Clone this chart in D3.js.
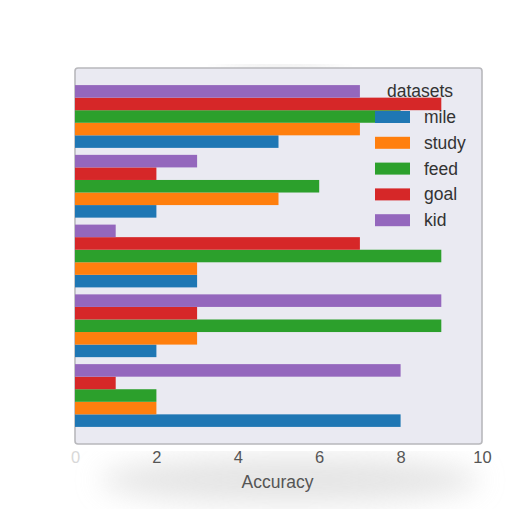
<!DOCTYPE html>
<html><head><meta charset="utf-8">
<script src="https://cdn.jsdelivr.net/npm/d3@7"></script>
<style>body{margin:0;background:#fff}svg{display:block}</style>
</head><body>
<svg id="c" width="512" height="512"></svg>
<script>
const groups = ["g1","g2","g3","g4","g5"]; // bottom to top
const seriesNames = ["mile","study","feed","goal","kid"];
const mile  = [8,2,3,2,5];
const study = [2,3,3,5,7];
const feed  = [2,9,9,6,8];
const goal  = [1,3,7,2,9];
const kid   = [8,9,1,3,7];
const xTicks = [0,2,4,6,8,10];
const colors = ["#1f77b4","#ff7f0e","#2ca02c","#d62728","#9467bd"];
const seriesValues = [mile, study, feed, goal, kid];

const svg = d3.select("#c");
const L = 75, R = 482, T = 68, B = 444;
const FONT = "Liberation Sans, Arial, sans-serif";

// soft shading artifacts
const defs = svg.append("defs");
defs.append("filter").attr("id","blur").append("feGaussianBlur").attr("stdDeviation",14);
svg.append("ellipse").attr("cx",290).attr("cy",480).attr("rx",190).attr("ry",24)
  .attr("fill","#dadada").attr("filter","url(#blur)").attr("opacity",0.7);
svg.append("ellipse").attr("cx",280).attr("cy",70).attr("rx",60).attr("ry",5)
  .attr("fill","#c8c8c8").attr("filter","url(#blur)").attr("opacity",0.8);

const x = d3.scaleLinear().domain([0,10]).range([L,R]);
const y = d3.scaleLinear().domain([-0.695,4.695]).range([B,T]);
const barH = 0.18;

svg.append("rect").attr("x",L).attr("y",T).attr("width",R-L).attr("height",B-T)
  .attr("rx",3).attr("fill","#eaeaf2").attr("stroke","#b8b8bc").attr("stroke-width",1.6);

seriesValues.forEach((vals, si) => {
  svg.append("g").selectAll("rect").data(vals).join("rect")
    .attr("x", x(0))
    .attr("width", d => x(d) - x(0))
    .attr("y", (d,i) => y(i - 0.45 + barH*(si+1)))
    .attr("height", y(0) - y(barH))
    .attr("fill", colors[si]);
});

// x axis
const ax = svg.append("g").attr("transform",`translate(0,${B})`)
  .call(d3.axisBottom(x).tickValues(xTicks).tickSize(0).tickPadding(7).tickFormat(d3.format("d")));
ax.select(".domain").remove();
ax.selectAll("text").attr("font-family",FONT)
  .attr("font-size",16.5).attr("fill",(d)=> d===0 ? "#d8d8d8" : "#555");

svg.append("text").attr("x",(L+R)/2 - 1).attr("y",488).attr("text-anchor","middle")
  .attr("font-family",FONT).attr("font-size",17.5).attr("fill","#555")
  .text("Accuracy");

// legend
const lg = svg.append("g");
lg.append("text").attr("x",420).attr("y",97).attr("text-anchor","middle")
  .attr("font-family",FONT).attr("font-size",17.5).attr("fill","#333")
  .text("datasets");
seriesNames.forEach((n,i) => {
  const cy = 117 + i*25.8;
  lg.append("rect").attr("x",375).attr("y",cy-6).attr("width",35).attr("height",12).attr("fill",colors[i]);
  lg.append("text").attr("x",424).attr("y",cy+6).attr("font-family",FONT)
    .attr("font-size",17.5).attr("fill","#333").text(n);
});
</script>
</body></html>
